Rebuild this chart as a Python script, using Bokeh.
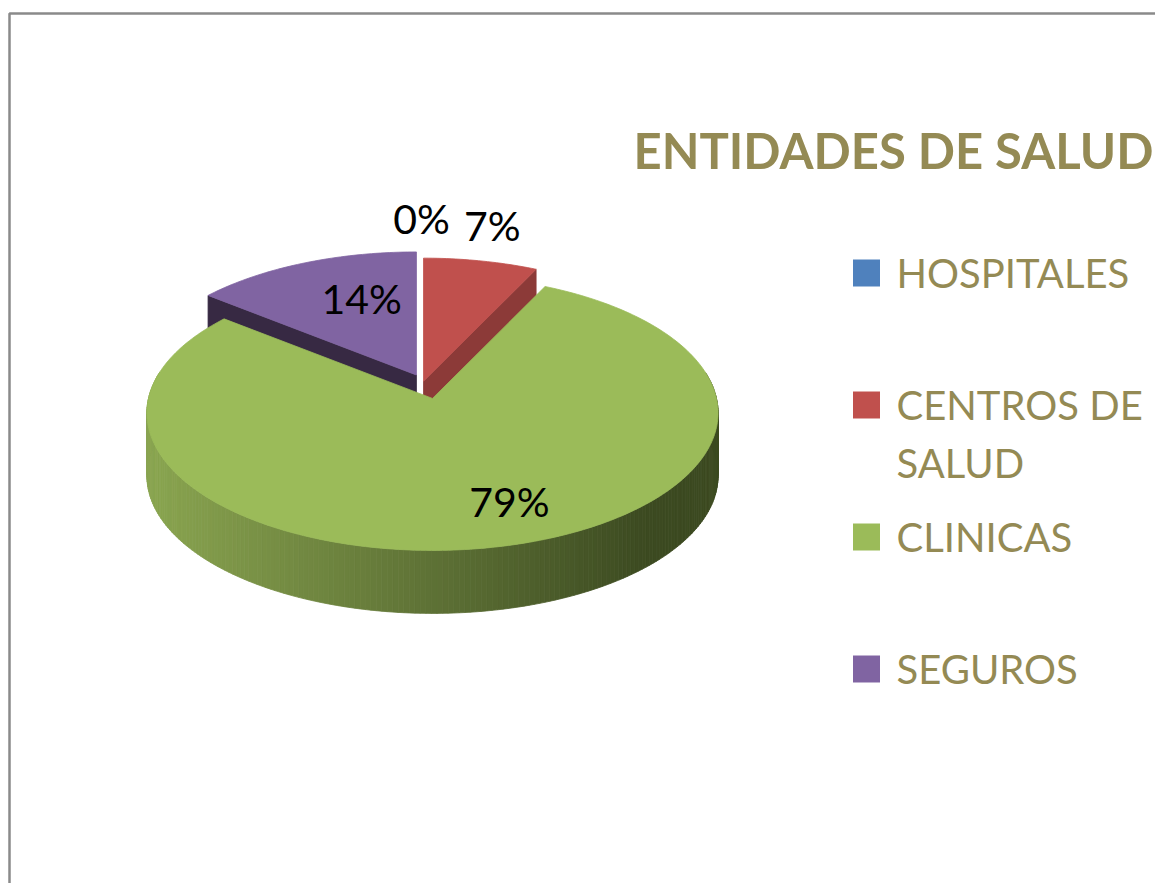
import math
from bokeh.plotting import figure
from bokeh.models import Range1d, ColumnDataSource
from bokeh.core.properties import value
from bokeh.embed import file_html
from bokeh.resources import INLINE

# ---------------- data ----------------
categories = ["HOSPITALES", "CENTROS DE SALUD", "CLINICAS", "SEGUROS"]
counts = [0, 1, 11, 2]
pct_labels = ["0%", "7%", "79%", "14%"]
top_colors = ["#4F81BD", "#C0504D", "#9BBB59", "#8064A2"]
side_colors = ["#2E4C70", "#8C3A38", "#5E7738", "#372943"]
title_text = "ENTIDADES DE SALUD"

# ---------------- layout ----------------
W, H = 1155, 883
CX, CY = 421.0, 388.0          # pie centre on screen
A, B, K = 284.0, 136.0, 0.105  # half width, half height, perspective
DEPTH = 63.0                   # thickness of the pie
EXPLODE_X = [0.0, 0.032, 0.174, 0.041]
EXPLODE_Y = [0.075, 0.055, 0.075, 0.11]
LABEL_R = [1.34, 1.33, 0.746, 0.632]
LABEL_TURN = [0.0, -0.9, -6.8, 6.8]
GRAD_L, GRAD_R = (138, 165, 80), (60, 74, 33)
TEXT_COL = "#948A54"
FONT = "Lato"

p = figure(width=W, height=H, x_range=Range1d(0, W), y_range=Range1d(H, 0),
           output_backend="svg", toolbar_location=None, min_border=0)
p.axis.visible = False
p.grid.visible = False
p.outline_line_color = None
p.background_fill_color = "white"
p.border_fill_color = "white"

# chart frame
p.quad(left=[9], right=[W + 50], top=[13], bottom=[H + 50], fill_color=None,
       line_color="#8A8A8A", line_width=2.5)


def proj(ax, ay, phi, r):
    u = r * math.sin(math.radians(phi))
    v = r * math.cos(math.radians(phi))
    f = 1.0 / (1.0 + K * v)
    return ax + A * u * f, ay - B * v * f


def hexcol(c):
    return "#%02x%02x%02x" % tuple(int(round(x)) for x in c)


total = float(sum(counts))
starts, ends = [], []
acc = 0.0
for c in counts:
    starts.append(acc / total * 360.0)
    acc += c
    ends.append(acc / total * 360.0)
mids = [(s + e) / 2.0 for s, e in zip(starts, ends)]
apex = [(CX + EXPLODE_X[i] * A * math.sin(math.radians(m)),
         CY - EXPLODE_Y[i] * B * math.cos(math.radians(m))) for i, m in enumerate(mids)]

xs, ys, fills = [], [], []
order = sorted([i for i in range(len(counts)) if counts[i] > 0], key=lambda i: apex[i][1])
for i in order:
    ax, ay = apex[i]
    a0, a1 = starts[i], ends[i]
    n = max(4, int((a1 - a0) / 1.0))
    angs = [a0 + (a1 - a0) * j / n for j in range(n + 1)]
    pts = [proj(ax, ay, a, 1.0) for a in angs]
    # radial side faces
    for edge, normal in ((a0, a0 - 90.0), (a1, a1 + 90.0)):
        if math.cos(math.radians(normal)) < -0.01:
            ox, oy = proj(ax, ay, edge, 1.0)
            xs.append([ax, ox, ox, ax])
            ys.append([ay, oy, oy + DEPTH, ay + DEPTH])
            fills.append(side_colors[i])
    # outer curved side
    for j in range(n):
        mid = (angs[j] + angs[j + 1]) / 2.0
        if math.cos(math.radians(mid)) < 0.2:
            (x0, y0), (x1, y1) = pts[j], pts[j + 1]
            t = min(1.0, max(0.0, ((x0 + x1) / 2.0 - (ax - A)) / 500.0))
            col = tuple(GRAD_L[k] + (GRAD_R[k] - GRAD_L[k]) * t for k in range(3))
            xs.append([x0, x1, x1, x0])
            ys.append([y0, y1, y1 + DEPTH, y0 + DEPTH])
            fills.append(hexcol(col))
    # top face
    xs.append([ax] + [q[0] for q in pts])
    ys.append([ay] + [q[1] for q in pts])
    fills.append(top_colors[i])

p.patches(xs="xs", ys="ys", fill_color="fc", line_color="fc", line_width=0.8,
          source=ColumnDataSource(dict(xs=xs, ys=ys, fc=fills)))

# percentage labels
lx, ly = [], []
for i in range(len(counts)):
    x, y = proj(apex[i][0], apex[i][1], mids[i] + LABEL_TURN[i], LABEL_R[i])
    lx.append(x)
    ly.append(y)
p.text(x=lx, y=ly, text=pct_labels, text_font=value(FONT), text_font_size=value("41px"),
       text_color="black", text_align="center", text_baseline="middle")

# title
p.text(x=[633], y=[149], text=[title_text], text_font=value(FONT), text_font_size=value("49px"),
       text_font_style="bold", text_color=TEXT_COL, text_align="left", text_baseline="middle")

# legend (manual)
LEG_SQ_X, LEG_TXT_X, LEG_Y0, LEG_STEP, LEG_LINE, SQ = 866, 896, 272.5, 132.0, 57.5, 27
sq_y, tx, ty, tt = [], [], [], []
for i, cat in enumerate(categories):
    cy = LEG_Y0 + LEG_STEP * i
    sq_y.append(cy)
    words = cat.split(" ")
    lines, cur = [], ""
    for w_ in words:
        cand = (cur + " " + w_).strip()
        if len(cand) > 10 and cur:
            lines.append(cur)
            cur = w_
        else:
            cur = cand
    lines.append(cur)
    for k, line in enumerate(lines):
        tx.append(LEG_TXT_X)
        ty.append(cy + LEG_LINE * k)
        tt.append(line)
p.rect(x=[LEG_SQ_X] * len(categories), y=sq_y, width=SQ, height=SQ, fill_color=top_colors,
       line_color=None)
p.text(x=tx, y=ty, text=tt, text_font=value(FONT), text_font_size=value("40px"),
       text_color=TEXT_COL, text_align="left", text_baseline="middle")

open("out.html", "w").write(file_html(p, INLINE))
